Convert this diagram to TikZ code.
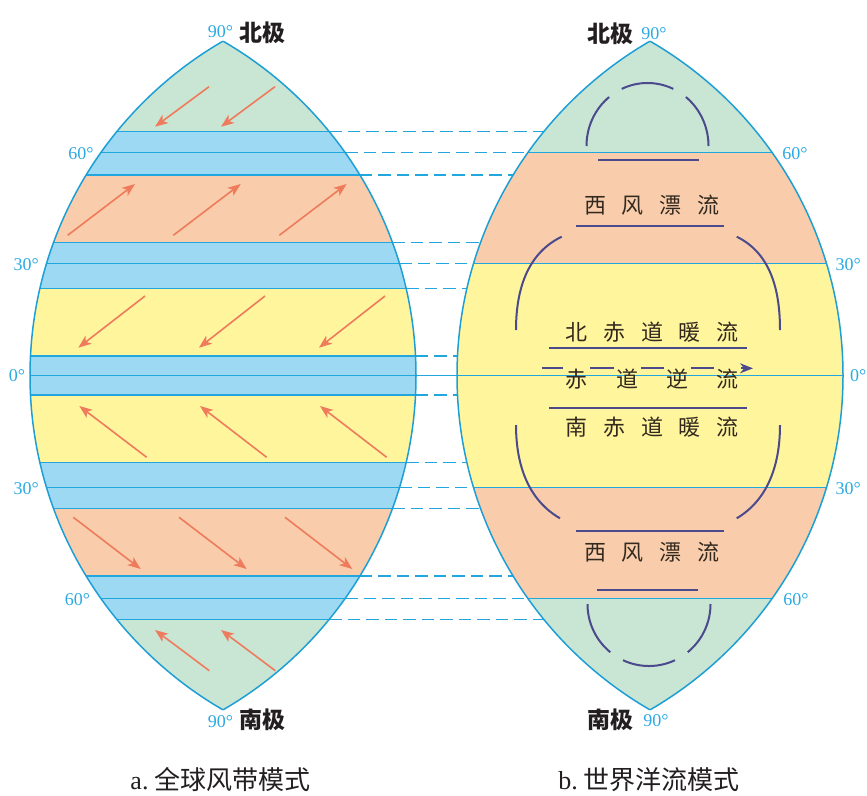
\documentclass[tikz,border=0pt]{standalone}
\usepackage{fontspec}
\setmainfont{Liberation Serif}
\newfontfamily\cjk{Noto Sans CJK SC}
\usetikzlibrary{arrows.meta}
\definecolor{polar}{HTML}{C9E5D3}
\definecolor{calm}{HTML}{9ED9F4}
\definecolor{west}{HTML}{F9CDAB}
\definecolor{trade}{HTML}{FFF59D}
\definecolor{edge}{HTML}{1D9FD6}
\definecolor{thin}{HTML}{22A6DE}
\definecolor{deg}{HTML}{2BA9E1}
\definecolor{wind}{HTML}{EE7B5B}
\definecolor{curr}{HTML}{4A4A8C}
\definecolor{ink}{HTML}{231F20}
\definecolor{curtext}{HTML}{33291F}
\begin{document}
\begin{tikzpicture}[x=1pt,y=-1pt,
  outline/.style={draw=edge,line width=1.5pt},
  bandline/.style={draw=thin,line width=1.1pt},
  dashline/.style={draw=thin,line width=1.1pt,dash pattern=on 12.5pt off 6pt},
  windarrow/.style={draw=wind,line width=1.6pt,-{Stealth[length=13pt,width=10pt,inset=3.5pt]}},
  current/.style={draw=curr,line width=2pt},
  deglab/.style={text=deg,font=\fontsize{18}{18}\selectfont,inner sep=0pt},
  polelab/.style={text=ink,font=\fontsize{23}{23}\selectfont\cjk\bfseries,inner sep=0pt},
  curlab/.style={text=curtext,font=\fontsize{22}{22}\selectfont\cjk,inner sep=0pt},
  caplab/.style={text=ink,font=\fontsize{26}{26}\selectfont,inner sep=0pt}]
\useasboundingbox (0,0) rectangle (867,795);
% ---------- left lens bands
\begin{scope}
  \clip (30,375.5) circle[radius=386];
  \clip (416,375.5) circle[radius=386];
  \fill[polar] (0,0) rectangle (440,131.7);
  \fill[calm] (0,131.7) rectangle (440,175);
  \fill[west] (0,175) rectangle (440,242.3);
  \fill[calm] (0,242.3) rectangle (440,288.3);
  \fill[trade] (0,288.3) rectangle (440,356);
  \fill[calm] (0,356) rectangle (440,395);
  \fill[trade] (0,395) rectangle (440,462.7);
  \fill[calm] (0,462.7) rectangle (440,508.7);
  \fill[west] (0,508.7) rectangle (440,576);
  \fill[calm] (0,576) rectangle (440,619.3);
  \fill[polar] (0,619.3) rectangle (440,795);
  \foreach \yy in {131.7,152.7,175,242.3,263.3,288.3,356,395,462.7,487.7,508.7,576,598.3,619.3}
    \draw[bandline] (0,\yy) -- (440,\yy);
\end{scope}
% ---------- right lens bands
\begin{scope}
  \clip (457,375.5) circle[radius=386];
  \clip (843,375.5) circle[radius=386];
  \fill[polar] (440,0) rectangle (867,152.7);
  \fill[west] (440,152.7) rectangle (867,263.3);
  \fill[trade] (440,263.3) rectangle (867,487.7);
  \fill[west] (440,487.7) rectangle (867,598.3);
  \fill[polar] (440,598.3) rectangle (867,795);
  \foreach \yy in {152.7,263.3,487.7,598.3}
    \draw[bandline] (440,\yy) -- (867,\yy);
\end{scope}
% ---------- dashed links
\foreach \yy in {131.7,152.7,175,242.3,263.3,288.3,356,395,462.7,487.7,508.7,576,598.3,619.3}
  \draw[dashline] ({30+100*sqrt(3.86*3.86-((\yy-375.5)/100)^2)},\yy) -- ({843-100*sqrt(3.86*3.86-((\yy-375.5)/100)^2)},\yy);
% equator
\draw[bandline] (30,375.5) -- (843,375.5);
% ---------- outlines
\begin{scope}\clip (30,375.5) circle[radius=386]; \draw[outline] (416,375.5) circle[radius=386];\end{scope}
\begin{scope}\clip (416,375.5) circle[radius=386]; \draw[outline] (30,375.5) circle[radius=386];\end{scope}
\begin{scope}\clip (457,375.5) circle[radius=386]; \draw[outline] (843,375.5) circle[radius=386];\end{scope}
\begin{scope}\clip (843,375.5) circle[radius=386]; \draw[outline] (457,375.5) circle[radius=386];\end{scope}
% ---------- wind arrows
\draw[windarrow] (209,86.7) -- (155,126.7);
\draw[windarrow] (275,86.7) -- (221,126.7);
\draw[windarrow] (67.7,235.3) -- (135,184);
\draw[windarrow] (173.3,235.3) -- (240.7,184);
\draw[windarrow] (279.3,235.3) -- (346.7,184);
\draw[windarrow] (145,296) -- (78.3,347.7);
\draw[windarrow] (265,296) -- (199,347.7);
\draw[windarrow] (385,296) -- (319,347.7);
\draw[windarrow] (146.7,457.3) -- (79.3,406);
\draw[windarrow] (266.7,457.3) -- (200,406);
\draw[windarrow] (386.7,457.3) -- (320,406);
\draw[windarrow] (73.3,517.3) -- (140.7,569);
\draw[windarrow] (179,517.3) -- (246.7,569);
\draw[windarrow] (285,517.3) -- (352.3,569);
\draw[windarrow] (209.3,670.7) -- (155,630);
\draw[windarrow] (275.3,670.7) -- (221,630);
% ---------- ocean currents
% north polar gyre
\draw[current] plot[domain=129:180,samples=30] ({647.5+61*cos(\x)},{146-63*sin(\x)});
\draw[current] plot[domain=65:115,samples=30] ({647.5+61*cos(\x)},{146-63*sin(\x)});
\draw[current] plot[domain=0:51,samples=30] ({647.5+61*cos(\x)},{146-63*sin(\x)});
% south polar gyre
\draw[current] plot[domain=129:180,samples=30] ({649+61.5*cos(\x)},{604+62*sin(\x)});
\draw[current] plot[domain=65:115,samples=30] ({649+61.5*cos(\x)},{604+62*sin(\x)});
\draw[current] plot[domain=0:51,samples=30] ({649+61.5*cos(\x)},{604+62*sin(\x)});
% horizontal current lines
\draw[current] (598.3,160) -- (699.3,160);
\draw[current] (575.7,226) -- (724,226);
\draw[current] (549.3,348.3) -- (746.7,348.3);
\draw[current] (549.3,407.7) -- (746.7,407.7);
\draw[current] (575.7,530.7) -- (724,530.7);
\draw[current] (597.3,590) -- (698.3,590);
% subtropical gyres
\draw[current] (561.7,236.7) .. controls (530,252) and (516,285) .. (516,330);
\draw[current] (736.7,236.7) .. controls (768,252) and (780,285) .. (780,330);
\draw[current] (516,425) .. controls (516,468) and (530,501) .. (560,518.3);
\draw[current] (780,425) .. controls (780,468) and (766,501) .. (736.7,518.3);
% labels in right lens
\node[curlab] (wwd1) at (651.7,205) {西\hspace{15.8pt}风\hspace{15.8pt}漂\hspace{15.8pt}流};
\node[curlab] (nec) at (652.2,331.7) {北\hspace{15.8pt}赤\hspace{15.8pt}道\hspace{15.8pt}暖\hspace{15.8pt}流};
\node[curlab] (sec) at (652.2,426.7) {南\hspace{15.8pt}赤\hspace{15.8pt}道\hspace{15.8pt}暖\hspace{15.8pt}流};
\node[curlab] (wwd2) at (651.7,551.7) {西\hspace{15.8pt}风\hspace{15.8pt}漂\hspace{15.8pt}流};
\coordinate (ecs) at (541.7,368.3);
\coordinate (ece) at (753,368.3);
\node[curlab,inner xsep=2.5pt] (ec1) at (576.7,379) {赤};
\node[curlab,inner xsep=2.5pt] (ec2) at (627.3,379) {道};
\node[curlab,inner xsep=2.5pt] (ec3) at (677.3,379) {逆};
\node[curlab,inner xsep=2.5pt] (ec4) at (727.3,379) {流};
\draw[current] (ecs) -- (ec1.west |- ecs);
\draw[current] (ec1.east |- ecs) -- (ec2.west |- ecs);
\draw[current] (ec2.east |- ecs) -- (ec3.west |- ecs);
\draw[current] (ec3.east |- ecs) -- (ec4.west |- ecs);
\draw[current,-{Stealth[length=13pt,width=10pt]}] (ec4.east |- ecs) -- (ece);
% ---------- degree labels
\node[deglab] (ln90) at (220.5,32) {90°};
\node[polelab] (lnp) at (262.5,33) {北极};
\node[deglab] (l60n) at (81,153.3) {60°};
\node[deglab] (l30n) at (26.3,264.3) {30°};
\node[deglab] (l0) at (17,376) {0°};
\node[deglab] (l30s) at (26.3,488.3) {30°};
\node[deglab] (l60s) at (77.5,599.3) {60°};
\node[deglab] (ls90) at (220.5,721.7) {90°};
\node[polelab] (lsp) at (262.5,720) {南极};
\node[polelab] (rnp) at (610,33.3) {北极};
\node[deglab] (rn90) at (654,33.3) {90°};
\node[deglab] (r60n) at (795,154) {60°};
\node[deglab] (r30n) at (848.3,264.3) {30°};
\node[deglab] (r0) at (858.3,376) {0°};
\node[deglab] (r30s) at (848.3,488.3) {30°};
\node[deglab] (r60s) at (796,599.3) {60°};
\node[polelab] (rsp) at (610,720) {南极};
\node[deglab] (rs90) at (656,720.7) {90°};
% ---------- captions
\node[caplab] (capa) at (220.5,779.3) {a.\hspace{6pt}{\cjk 全球风带模式}};
\node[caplab] (capb) at (649,779.3) {b.\hspace{6pt}{\cjk 世界洋流模式}};
\end{tikzpicture}
\end{document}
